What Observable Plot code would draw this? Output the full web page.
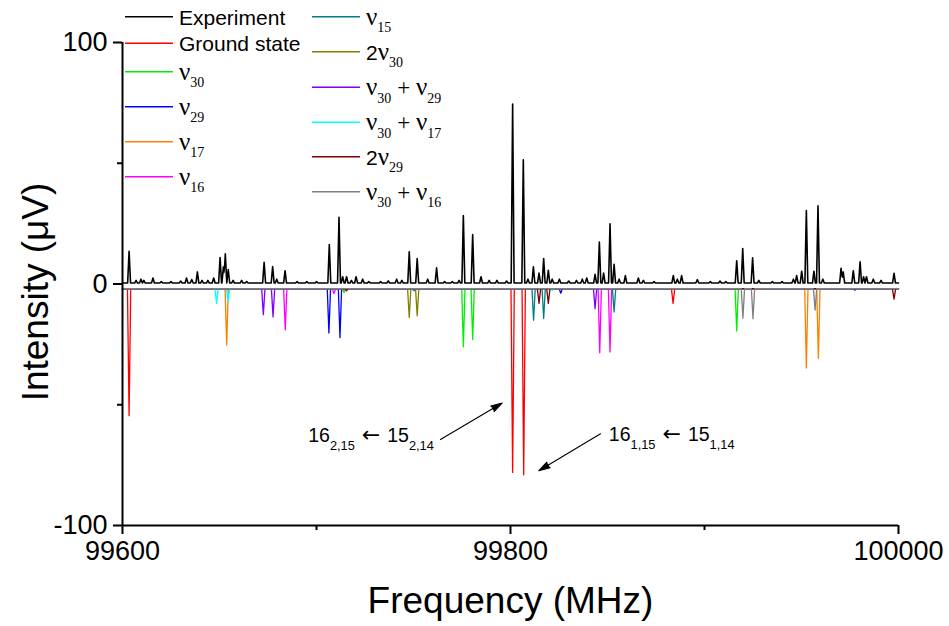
<!DOCTYPE html>
<html><head><meta charset="utf-8">
<script src="https://cdn.jsdelivr.net/npm/d3@7"></script>
<script src="https://cdn.jsdelivr.net/npm/@observablehq/plot@0.6"></script>
<style>
body{margin:0;background:#fff;}
#chart{width:949px;height:626px;}
g[aria-label="arrow"] path{fill:#000;}
</style></head><body><div id="chart"></div>
<script>
// ---------- data ----------
const freqDomain = [99600, 100000];
const intensityDomain = [-100, 100];
const xMajorTicks = [99600, 99800, 100000];
const xMinorTicks = [99700, 99900];
const yMajorTicks = [-100, 0, 100];
const yMinorTicks = [-50, 50];
const xTitle = "Frequency (MHz)";
const yTitle = "Intensity (μV)";

const experimentBaseline = 0.4;
const simulatedBaseline = -1.9;

// [frequency MHz, intensity μV]
const experimentPeaks = [
  [99603.4,13.5],[99607,1.5],[99609.5,2],[99611,1.5],[99615.7,2.5],[99620,1],[99625,1],[99630,1.2],
  [99633,2.5],[99635.7,1.8],[99638.6,5],[99641,1.5],[99644,1.5],[99647,2.5],[99650.3,11],[99652,7],
  [99653,12.5],[99654.5,6],[99657,1.5],[99661.4,1.5],[99664,1],[99673,9],[99677.4,7.2],[99679.5,2],
  [99683.8,5.5],[99690,1],[99695,1],[99700,1],[99706.6,16.3],[99711.6,27.6],[99713.5,3],[99715.5,3],
  [99718,1.5],[99720.4,3],[99723.8,2],[99727,1],[99733,1],[99737,1.3],[99741.3,2],[99744,1.5],
  [99747.8,13.3],[99751.9,10.5],[99757.3,2],[99761.9,6.7],[99766,1],[99770,1],[99773.5,1.5],
  [99775.7,28.3],[99780.5,20.5],[99784.8,3],[99789,1.5],[99793,1.5],[99798,1.2],[99801.1,74.5],
  [99806.6,51.4],[99809,2],[99811.8,7.1],[99814.7,4.5],[99817.1,10.5],[99819.5,5.7],[99821.5,2],
  [99825.2,2],[99830,1.2],[99834,1.5],[99837,2],[99839.3,2.5],[99843.6,4],[99845.8,17.4],[99848,4.5],
  [99851.3,24.9],[99853.4,8.2],[99856,2],[99859.2,3.5],[99865.9,2.5],[99868.5,1.5],[99874,1],
  [99883.9,3.5],[99886,2],[99888.2,3.5],[99896.3,1.8],[99903,1],[99908,1.2],[99911,1],[99916.6,9.6],
  [99919.7,14.7],[99924.8,10.8],[99928,1.5],[99935,1],[99940,1],[99945.8,2],[99947.5,3.5],[99950.1,5.3],
  [99952.5,30.4],[99956.4,5.3],[99958.5,32.4],[99961,2],[99970.4,6.5],[99971.5,5],[99976.7,5.5],
  [99980.2,9.2],[99982,3],[99983.5,3],[99987,2],[99991,1.5],[99997.7,4.4]
];

const groundState = [[99603.4,-54.5],[99801.1,-78],[99806.8,-79],[99883.8,-8]];
const nu30 = [[99714.2,-3.5],[99775.7,-26],[99780.5,-23],[99916.6,-19.5]];
const nu29 = [[99706.4,-20.3],[99712.1,-22.2],[99825.9,-3.8]];
const nu17 = [[99653.7,-25.3],[99952.5,-34.8],[99958.7,-30.8]];
const nu16 = [[99683.9,-19],[99709,-4],[99846,-28.5],[99851.3,-28.2]];
const nu15 = [[99750.3,-2.8],[99811.9,-15],[99817.1,-14.3],[99853.4,-11.6]];
const twoNu30 = [[99747.8,-13.9],[99751.9,-13.2]];
const nu30nu29 = [[99672.6,-12.7],[99677.6,-13.6],[99843.6,-10.2],[99977.5,-2.6]];
const nu30nu17 = [[99648.5,-8],[99654.4,-7.3],[99821.5,-2.6]];
const twoNu29 = [[99715.5,-2.8],[99814.7,-8],[99819.5,-8],[99997.7,-6.3]];
const nu30nu16 = [[99919.8,-14.2],[99925,-14.4],[99957,-10.8]];

const seriesNames = ["Ground state","ν_{30}","ν_{29}","ν_{17}","ν_{16}","ν_{15}","2ν_{30}","ν_{30} + ν_{29}","ν_{30} + ν_{17}","2ν_{29}","ν_{30} + ν_{16}"];
const seriesColors = ["#ff0000","#00ee00","#0000ff","#ff8000","#ff00ff","#008080","#808000","#8000ff","#00ffff","#800000","#808080"];
const seriesPeaks = [groundState,nu30,nu29,nu17,nu16,nu15,twoNu30,nu30nu29,nu30nu17,twoNu29,nu30nu16];

const annotationLabels = [
  {f:99760.5, v:-63.0, text:"16_{2,15} ← 15_{2,14}", side:"end"},
  {f:99850.7, v:-62.6, text:"16_{1,15} ← 15_{1,14}", side:"start"}
];
const annotationArrows = [
  {x1:99763.9, y1:-64.4, x2:99795.7, y2:-49.3},
  {x1:99846.4, y1:-62.0, x2:99814.6, y2:-77.3}
];

// ---------- build line profiles from the peak lists ----------
function profile(peaks, base, hw){
  const xs = new Set(freqDomain);
  for (const [f] of peaks){ xs.add(f-hw); xs.add(f); xs.add(f+hw); }
  const sorted = [...xs].filter(x => x>=freqDomain[0] && x<=freqDomain[1]).sort((a,b)=>a-b);
  return sorted.map(x => {
    let v = base;
    for (const [f,h] of peaks){
      const d = Math.abs(x-f);
      if (d < hw){
        const t = base + (h-base)*(1-d/hw);
        if (h > base ? t > v : t < v) v = t;
      }
    }
    return {x, y:v};
  });
}

const sans = "'Liberation Sans', Arial, Helvetica, sans-serif";
const serif = "'Liberation Serif', 'Times New Roman', serif";

const simMarks = seriesPeaks.map((p,i) =>
  Plot.line(profile(p, simulatedBaseline, 0.85), {x:"x", y:"y", stroke:seriesColors[i], strokeWidth:1.3}));

const plot = Plot.plot({
  width:949, height:626,
  marginLeft:122, marginRight:51, marginTop:42, marginBottom:101,
  x:{domain:freqDomain},
  y:{domain:intensityDomain},
  style:{fontFamily:sans, color:"#000", background:"#fff", overflow:"visible"},
  marks:[
    ...simMarks,
    Plot.line(profile(experimentPeaks, experimentBaseline, 0.75), {x:"x", y:"y", stroke:"#000", strokeWidth:1.6}),
    Plot.ruleX([freqDomain[0]], {stroke:"#000", strokeWidth:2}),
    Plot.ruleY([intensityDomain[0]], {stroke:"#000", strokeWidth:2}),
    Plot.axisX({ticks:xMajorTicks, tickSize:9, tickPadding:6, fontSize:27, strokeWidth:2, label:null, tickFormat:d=>String(d)}),
    Plot.axisX({ticks:xMinorTicks, tickSize:5, strokeWidth:2, label:null, tickFormat:()=>""}),
    Plot.axisY({ticks:yMajorTicks, tickSize:9, tickPadding:6, fontSize:27, strokeWidth:2, label:null, tickFormat:d=>String(d)}),
    Plot.axisY({ticks:yMinorTicks, tickSize:5, strokeWidth:2, label:null, tickFormat:()=>""}),
    Plot.text([xTitle], {frameAnchor:"bottom", dy:76, lineAnchor:"middle", textAnchor:"middle", fontSize:37}),
    Plot.text([yTitle], {frameAnchor:"left", dx:-86, dy:8, rotate:-90, textAnchor:"middle", lineAnchor:"middle", fontSize:37}),
    Plot.arrow(annotationArrows, {x1:"x1", y1:"y1", x2:"x2", y2:"y2", stroke:"#000", strokeWidth:1.1, headLength:16, headAngle:32}),
    Plot.text(annotationLabels.filter(d=>d.side==="end"), {x:"f", y:"v", text:"text", textAnchor:"end", fontSize:19.5}),
    Plot.text(annotationLabels.filter(d=>d.side==="start"), {x:"f", y:"v", text:"text", textAnchor:"start", fontSize:19.5})
  ]
});

// rich text: "ν" in serif, "_{..}" as subscript
function rich(sel, str, o){
  const tokens = str.match(/_\{[^}]*\}|ν|\+|\s*←\s*|[^_ν+←]+/g);
  let shifted = false;
  for (const t of tokens){
    const ts = sel.append("tspan");
    if (t.startsWith("_{")){
      ts.text(t.slice(2,-1)).attr("font-size", o.subSize).attr("font-family", o.subFamily);
      if (!shifted) ts.attr("dy", o.subShift);
      shifted = true;
    } else {
      ts.text(t);
      if (shifted) ts.attr("dy", -o.subShift);
      shifted = false;
      if (t === "ν") ts.attr("font-family", serif).attr("font-size", o.nuSize);
      else if (t === "+") ts.attr("font-family", o.plusFamily).attr("font-size", o.plusSize);
      else if (t.includes("←")) ts.attr("font-family", "'DejaVu Sans', sans-serif").attr("font-size", o.arrowSize);
      else ts.attr("font-family", o.family).attr("font-size", o.size);
    }
  }
}

const svg = d3.select(plot);
svg.selectAll("text").each(function(){
  const s = this.textContent;
  if (s.includes("_{")){
    const t = d3.select(this);
    t.text("");
    t.attr("xml:space","preserve");
    rich(t, s, {family:sans, size:19.5, subFamily:sans, subSize:12.8, subShift:7.5, nuSize:19, plusFamily:sans, plusSize:19, arrowSize:22});
  }
});

// legend
const legendItems = [{name:"Experiment", color:"#000"}].concat(seriesNames.map((n,i)=>({name:n, color:seriesColors[i]})));
const legendCols = [{x:125, rows:[16.7,43.3,71.7,106.7,141.7,176.7]}, {x:312, rows:[16.7,51.7,87.3,122.3,156.7,191.7]}];
const lg = svg.append("g").attr("text-anchor","start");
legendItems.forEach((d,i) => {
  const col = legendCols[Math.floor(i/6)];
  const y = col.rows[i%6];
  lg.append("line").attr("x1",col.x).attr("x2",col.x+48).attr("y1",y).attr("y2",y)
    .attr("stroke",d.color).attr("stroke-width",1.5);
  const t = lg.append("text").attr("x",col.x+54).attr("y",y+8).attr("fill","#000")
    .attr("text-anchor","start").attr("xml:space","preserve");
  rich(t, d.name, {family:sans, size:21, subFamily:serif, subSize:14, subShift:7.3, nuSize:25, plusFamily:serif, plusSize:23, arrowSize:21});
});

document.getElementById("chart").appendChild(plot);
</script>
</body></html>
